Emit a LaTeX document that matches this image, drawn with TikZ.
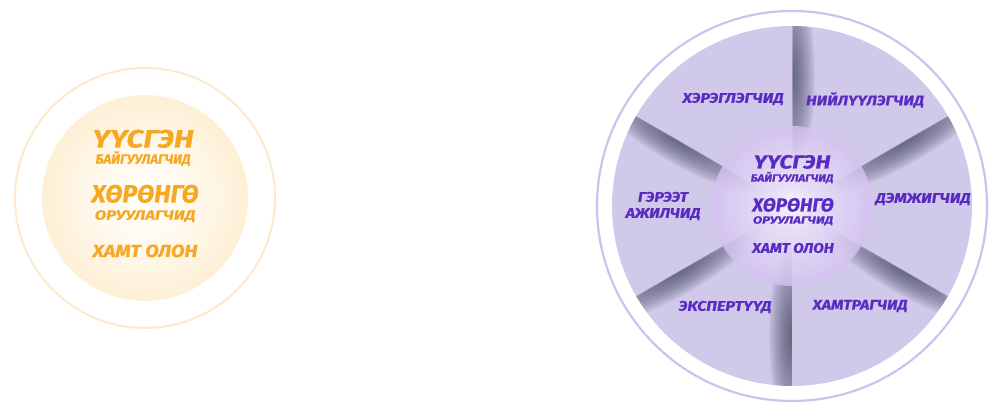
\documentclass[tikz,border=0pt]{standalone}
\usepackage{fontspec}
\usepackage{graphicx}
\setmainfont{Fira Sans}[BoldItalicFeatures={FakeBold=0.6}]
\definecolor{orng}{HTML}{F7A823}
\definecolor{ringO}{HTML}{FDE9CC}
\definecolor{peach}{HTML}{FDDFA6}
\definecolor{purp}{HTML}{5A2BC2}
\definecolor{pief}{HTML}{D0C9EA}
\definecolor{ringP}{HTML}{CBC3EE}
\definecolor{shadowc}{HTML}{3C4058}
\definecolor{lilacedge}{HTML}{C0A6EA}
\pgfdeclareradialshading{peachsh}{\pgfpoint{0bp}{0bp}}{color(0bp)=(white); color(12bp)=(white!80!peach); color(50bp)=(peach)}
\pgfdeclareradialshading{lilacsh}{\pgfpoint{0bp}{0bp}}{color(0bp)=(white); color(7bp)=(white!70!lilacedge); color(28bp)=(white!25!lilacedge); color(50bp)=(lilacedge)}
\tikzset{
  bigtxt/.style={font=\fontsize{25}{25}\selectfont\bfseries\itshape, inner sep=0pt, text height=17pt, text depth=0pt},
  subtxt/.style={font=\fontsize{13.5}{13.5}\selectfont\bfseries\itshape, inner sep=0pt, text height=9.5pt, text depth=0pt},
  midtxt/.style={font=\fontsize{17.5}{17.5}\selectfont\bfseries\itshape, inner sep=0pt, text height=12pt, text depth=0pt},
  cbig/.style={font=\fontsize{19}{19}\selectfont\bfseries\itshape, inner sep=0pt, text height=13pt, text depth=0pt},
  csub/.style={font=\fontsize{10.5}{10.5}\selectfont\bfseries\itshape, inner sep=0pt, text height=7.3pt, text depth=0pt},
  cmid/.style={font=\fontsize{14}{14}\selectfont\bfseries\itshape, inner sep=0pt, text height=9.7pt, text depth=0pt},
  pielbl/.style={font=\fontsize{14}{16}\selectfont\bfseries\itshape, inner sep=0pt, text=purp, align=center},
}
\newcommand{\sx}[2]{\scalebox{#1}[1]{#2}}
\newcommand{\shadowline}[2]{%
  \begin{scope}[rotate around={#1:(pc)}, shift={(pc)}]
    \clip (0,0) rectangle (185,#2*26);
    \foreach \k in {1,...,16}
      \fill[shadowc, fill opacity=0.065] (130,0) ellipse [x radius=95*\k/16, y radius=23*\k/16];
  \end{scope}}
\begin{document}
\begin{tikzpicture}[x=1pt,y=1pt]
\useasboundingbox (0,0) rectangle (1000,417);
% ---------- left circle
\coordinate (lc) at (145,219);
\draw[ringO, line width=2pt] (lc) circle (130);
\shade[shading=peachsh] (lc) circle (103);
\begin{scope}[text=orng]
\node[bigtxt] (l1) at (143,278) {\sx{1.2}{ҮҮСГЭН}};
\node[subtxt] (l2) at (143,258) {\sx{1.0}{БАЙГУУЛАГЧИД}};
\node[bigtxt] (l3) at (145,223) {\sx{1.0}{ХӨРӨНГӨ}};
\node[subtxt] (l4) at (145,202) {\sx{1.25}{ОРУУЛАГЧИД}};
\node[midtxt] (l5) at (145,166) {\sx{1.13}{ХАМТ ОЛОН}};
\end{scope}
% ---------- right circle
\coordinate (pc) at (792,211);
\draw[ringP, line width=2.2pt] (pc) circle (195);
\fill[pief] (pc) circle (180);
\begin{scope}
\clip (pc) circle (180);
\shadowline{90}{-1}
\shadowline{30}{-1}
\shadowline{-30}{-1}
\shadowline{-90}{-1}
\shadowline{-150}{1}
\shadowline{150}{1}
\foreach \a in {90,30,-30,-90,-150,150}
  \draw[white, opacity=0.3, line width=0.8pt] (pc) -- ++(\a:180);
\end{scope}
\shade[shading=lilacsh, opacity=0.82] (pc) circle (80);
\begin{scope}[text=purp]
\node[cbig] (c1) at (792,255) {\sx{1.2}{ҮҮСГЭН}};
\node[csub] (c2) at (792,239) {\sx{1.12}{БАЙГУУЛАГЧИД}};
\node[cbig] (c3) at (793,212) {\sx{1.0}{ХӨРӨНГӨ}};
\node[csub] (c4) at (793,197) {\sx{1.28}{ОРУУЛАГЧИД}};
\node[cmid] (c5) at (793,169) {\sx{1.1}{ХАМТ ОЛОН}};
\end{scope}
\node[pielbl] (p1) at (733,318) {\sx{1.17}{ХЭРЭГЛЭГЧИД}};
\node[pielbl] (p2) at (865,317) {\sx{1.15}{НИЙЛҮҮЛЭГЧИД}};
\node[pielbl] (p3) at (923,218) {\sx{1.16}{ДЭМЖИГЧИД}};
\node[pielbl] (p4) at (860,111) {\sx{1.14}{ХАМТРАГЧИД}};
\node[pielbl] (p5) at (725,110) {\sx{1.16}{ЭКСПЕРТҮҮД}};
\node[pielbl] (p6) at (663,211) {\sx{1.15}{ГЭРЭЭТ}\\\sx{1.15}{АЖИЛЧИД}};
\end{tikzpicture}
\end{document}
